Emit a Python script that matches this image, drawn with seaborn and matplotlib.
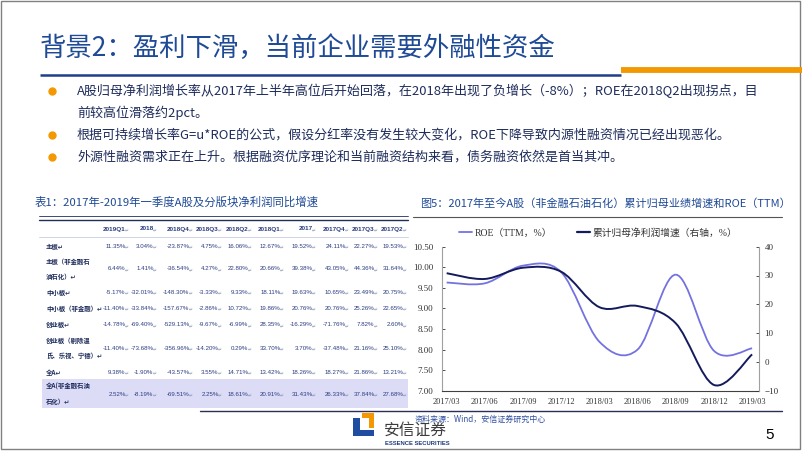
import numpy as np
import matplotlib
matplotlib.use("Agg")
import matplotlib.pyplot as plt
import seaborn as sns
from matplotlib.path import Path
from matplotlib.patches import PathPatch, Rectangle, Polygon
from matplotlib.lines import Line2D
from matplotlib.font_manager import FontProperties

sns.set_style("white")
plt.rcParams['font.family'] = ['Noto Sans CJK SC', 'DejaVu Sans']

# -----------------------------
# Data
# -----------------------------
quarters = ["2017/03", "2017/06", "2017/09", "2017/12", "2018/03",
            "2018/06", "2018/09", "2018/12", "2019/03"]
roe_ttm = [9.63, 9.61, 10.04, 9.88, 8.19, 8.00, 9.82, 7.97, 8.03]
profit_growth = [30.8, 28.8, 32.7, 31.3, 19.0, 19.4, 13.4, -8.0, 2.6]

table_cols = ["2019Q1", "2018", "2018Q4", "2018Q3", "2018Q2",
              "2018Q1", "2017", "2017Q4", "2017Q3", "2017Q2"]
row_labels = ["主板", "主板（非金融石\n油石化）", "中小板", "中小板（非金融）",
              "创业板", "创业板（剔除温\n氏、乐视、宁德）", "全A", "全A(非金融石油\n石化）"]
main_board = [11.35, 3.04, -23.87, 4.75, 16.06, 12.67, 19.52, 24.11, 22.27, 19.53]
main_ex_fin = [6.44, 1.41, -36.54, 4.27, 22.80, 20.66, 39.38, 43.05, 44.36, 31.64]
sme_board = [-5.17, -32.01, -148.30, -3.33, 9.33, 18.11, 19.63, 10.65, 23.49, 20.75]
sme_ex_fin = [-11.40, -33.84, -157.67, -2.86, 10.72, 19.86, 20.76, 20.76, 25.26, 22.65]
gem_board = [-14.78, -69.40, -529.13, -9.67, -6.99, 28.35, -16.29, -71.76, 7.82, 2.60]
gem_ex = [-11.40, -73.68, -356.96, -14.20, 0.29, 33.70, 3.70, -37.48, 21.16, 25.10]
all_a = [9.38, -1.90, -43.57, 3.55, 14.71, 13.42, 18.26, 18.27, 21.86, 13.21]
all_a_ex = [2.52, -8.19, -69.51, 2.25, 18.61, 20.91, 31.43, 26.33, 37.84, 27.68]
table_values = [main_board, main_ex_fin, sme_board, sme_ex_fin,
                gem_board, gem_ex, all_a, all_a_ex]

bullets = [
    "A股归母净利润增长率从2017年上半年高位后开始回落，在2018年出现了负增长（-8%）；ROE在2018Q2出现拐点，目",
    "前较高位滑落约2pct。",
    "根据可持续增长率G=u*ROE的公式，假设分红率没有发生较大变化，ROE下降导致内源性融资情况已经出现恶化。",
    "外源性融资需求正在上升。根据融资优序理论和当前融资结构来看，债务融资依然是首当其冲。",
]

# -----------------------------
# Colours / fonts
# -----------------------------
BLUE = "#1F4A96"
NAVY = "#1F2D5C"
ORANGE = "#F39800"
VAL = "#2A3C80"
ROE_C = "#7472E0"
GROW_C = "#141B5C"
num_font = ['Liberation Sans', 'DejaVu Sans']
serif = ['Liberation Serif', 'Noto Sans CJK SC', 'DejaVu Serif']


def smooth_path(xs, ys):
    pts = list(zip(xs, ys))
    n = len(pts)
    verts = [pts[0]]
    codes = [Path.MOVETO]
    for i in range(n - 1):
        p0 = pts[i - 1] if i > 0 else pts[i]
        p1 = pts[i]
        p2 = pts[i + 1]
        p3 = pts[i + 2] if i + 2 < n else pts[i + 1]
        c1 = (p1[0] + (p2[0] - p0[0]) / 6, p1[1] + (p2[1] - p0[1]) / 6)
        c2 = (p2[0] - (p3[0] - p1[0]) / 6, p2[1] - (p3[1] - p1[1]) / 6)
        verts += [c1, c2, p2]
        codes += [Path.CURVE4] * 3
    return Path(verts, codes)


fig = plt.figure(figsize=(8.02, 4.51), dpi=100)

# background layer in pixel units
bg = fig.add_axes([0, 0, 1, 1])
bg.set_xlim(0, 802)
bg.set_ylim(451, 0)
bg.axis("off")

bg.add_patch(Rectangle((1, 1), 799, 448, fill=False, ec="#808080", lw=1))

# title
bg.text(40, 48, "背景2：盈利下滑，当前企业需要外融性资金", fontsize=19,
        color=BLUE, va="center", ha="left")
bg.plot([40, 621], [74.5, 74.5], color="#1F3F8C", lw=1.8, solid_capstyle="butt")
bg.plot([621, 802], [70, 70], color=ORANGE, lw=4.2, solid_capstyle="butt")

# bullets
bullet_y = [91, 113, 135, 157]
for i, (txt, y) in enumerate(zip(bullets, bullet_y)):
    if i != 1:
        bg.plot(52, y, "o", ms=5, color=ORANGE)
    bg.text(77, y, txt, fontsize=9.4, color=NAVY, va="center", ha="left")

# -----------------------------
# Table
# -----------------------------
bg.text(35, 202, "表1：2017年-2019年一季度A股及分版块净利润同比增速",
        fontsize=8.2, color=BLUE, va="center", ha="left")
bg.plot([39, 408], [216, 216], color="#1F2D5C", lw=0.6)
bg.plot([39, 408], [219.5, 219.5], color="#1F2D5C", lw=1.0)
bg.plot([39, 408], [237, 237], color="#B8C4DC", lw=0.5)
bg.add_patch(Rectangle((42, 379), 366, 29, fc="#DCDCF7", ec="none"))
bg.plot([200, 782], [410.5, 410.5], color="#2A2F55", lw=1.0)

col_right = [129, 157, 193, 222, 252, 284, 316, 349, 378, 407]
row_y = [246, 269, 292, 308, 325, 348, 372, 394]
mark_w = 3.4

for c, xr in zip(table_cols, col_right):
    bg.text(xr - mark_w, 229, c, fontsize=4.6, fontweight="bold", color=VAL,
            family=num_font, ha="right", va="center")
    bg.text(xr, 229.5, "↵", fontsize=3.4, color="#8090B0", family=['DejaVu Sans'],
            ha="right", va="center")

for lab, vals, y in zip(row_labels, table_values, row_y):
    bg.text(46, y, lab + "↵", fontsize=4.6, fontweight="bold", color=NAVY,
            ha="left", va="center", linespacing=2.3)
    for v, xr in zip(vals, col_right):
        bg.text(xr - mark_w, y, f"{v:.2f}%", fontsize=4.4, color=VAL,
                family=num_font, ha="right", va="center")
        bg.text(xr, y + 0.5, "↵", fontsize=3.4, color="#8090B0",
                family=['DejaVu Sans'], ha="right", va="center")

# -----------------------------
# Line chart
# -----------------------------
bg.text(420, 203, "图5：2017年至今A股（非金融石油石化）累计归母业绩增速和ROE（TTM）",
        fontsize=8, color=BLUE, va="center", ha="left")
bg.plot([413, 782], [217, 217], color="#555555", lw=0.8)

ax = fig.add_axes([441.7 / 802, 1 - 390.7 / 451, 317.3 / 802, 144 / 451])
ax.set_facecolor("none")
ax2 = ax.twinx()

x = np.arange(len(quarters))
ax.add_patch(PathPatch(smooth_path(x, roe_ttm), fill=False, ec=ROE_C, lw=1.3))
ax2.add_patch(PathPatch(smooth_path(x, profit_growth), fill=False, ec=GROW_C, lw=1.4))

ax.set_xlim(-0.13, 8.18)
ax.set_ylim(7.0, 10.5)
ax2.set_ylim(-10, 40)
ax.set_xticks(x)
ax.set_xticklabels(quarters)
ax.set_yticks(np.arange(7.0, 10.51, 0.5))
ax.set_yticklabels([f"{v:.2f}" for v in np.arange(7.0, 10.51, 0.5)])
ax2.set_yticks(range(-10, 41, 10))

ax.tick_params(axis="y", labelsize=6.5, colors="#333333", direction="in",
               length=2.5, width=0.6, pad=6)
ax.tick_params(axis="x", labelsize=6, colors="#333333", length=0, pad=5)
ax2.tick_params(axis="y", labelsize=6.5, colors="#333333", direction="in",
                length=2.5, width=0.6, pad=4)
for lbl in ax.get_xticklabels() + ax.get_yticklabels() + ax2.get_yticklabels():
    lbl.set_fontfamily(serif)

for a in (ax, ax2):
    a.spines["top"].set_visible(False)
ax.spines["right"].set_visible(False)
ax2.spines["left"].set_visible(False)
ax2.spines["bottom"].set_visible(False)
ax.spines["left"].set_color("#A0A0A0")
ax.spines["left"].set_linewidth(0.8)
ax2.spines["right"].set_color("#A0A0A0")
ax2.spines["right"].set_linewidth(0.8)
ax.spines["bottom"].set_color("#404040")
ax.spines["bottom"].set_linewidth(0.8)
ax.grid(False)
ax2.grid(False)

handles = [Line2D([0], [0], color=ROE_C, lw=1.3),
           Line2D([0], [0], color=GROW_C, lw=1.6)]
ax2.legend(handles, ["ROE（TTM，%）", "累计归母净利润增速（右轴，%）"],
           loc="center left", bbox_to_anchor=(459 / 802, 1 - 233 / 451),
           bbox_transform=fig.transFigure, ncol=2, frameon=False,
           handlelength=1.35, handletextpad=0.25, columnspacing=2.6,
           borderpad=0, borderaxespad=0,
           prop=FontProperties(family=serif, size=7), labelcolor="#333333")

# -----------------------------
# Footer
# -----------------------------
bg.text(415, 419, "资料来源：Wind，安信证券研究中心", fontsize=5.8,
        color="#3050A0", va="center", ha="left")

bg.add_patch(Polygon([(353, 418), (360, 418), (360, 430), (374, 430),
                      (374, 436), (353, 436)], closed=True, fc="#1F4EA0", ec="none"))
bg.add_patch(Polygon([(362, 413), (374, 413), (374, 428), (369, 428),
                      (369, 418), (362, 418)], closed=True, fc=ORANGE, ec="none"))
bg.text(384, 430, "安信证券", fontsize=11.3, color="#3C3C3C", va="center", ha="left")
bg.text(385, 443.5, "ESSENCE SECURITIES", fontsize=4.2, fontweight="bold",
        color="#1F3A7A", va="center", ha="left", family=['Liberation Sans', 'DejaVu Sans'])
bg.text(765, 435, "5", fontsize=11, color="black", va="center", ha="left",
        family=['Liberation Sans', 'DejaVu Sans'])

fig.savefig("out.png", dpi=100)
